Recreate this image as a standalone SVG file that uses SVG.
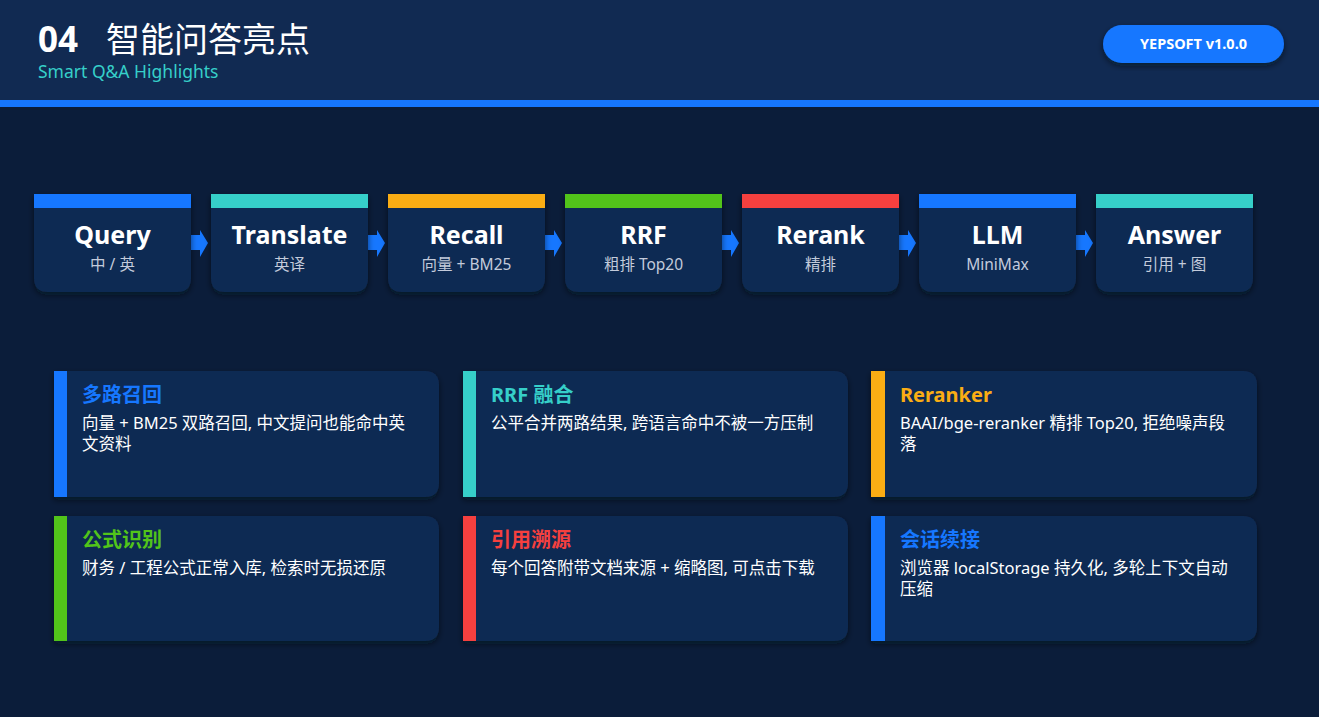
<svg xmlns="http://www.w3.org/2000/svg" width="1319" height="717" viewBox="0 0 1319 717">
<defs>
<filter id="sh" x="-10%" y="-10%" width="120%" height="130%">
<feDropShadow dx="0" dy="3" stdDeviation="3" flood-color="#000814" flood-opacity="0.55"/>
</filter>
<style>
.f{font-family:"Noto Sans","Noto Sans CJK SC",sans-serif}
.stepbox{fill:#112a52}
.st{font-size:25px;font-weight:700;fill:#ffffff;text-anchor:middle}
.ss{font-size:15.5px;fill:#c3cbdb;text-anchor:middle}
.arrow{fill:#1677ff}
.card{fill:#112a52}
.ct{font-size:20px;font-weight:700}
.cb{font-size:16.5px;fill:#ffffff}
</style>
</defs>
<rect x="0" y="0" width="1319" height="717" fill="#0b1d3a"/>
<g id="header">
<rect x="0" y="0" width="1319" height="100" fill="#112a52"/>
<rect x="0" y="100" width="1319" height="7" fill="#1677ff"/>
<text class="f" x="38" y="52" font-size="35" font-weight="700" fill="#ffffff">04</text>
<text x="106" y="52" font-size="34" fill="#ffffff" font-family="Noto Sans CJK SC, sans-serif">智能问答亮点</text>
<text class="f" x="38" y="78" font-size="17.5" fill="#36cfc9">Smart Q&amp;A Highlights</text>
</g>
<g id="badge">
<rect x="1103" y="25" width="181" height="38" rx="19" fill="#1677ff" filter="url(#sh)"/>
<text class="f" x="1193.5" y="49" font-size="14.5" font-weight="700" fill="#ffffff" text-anchor="middle">YEPSOFT v1.0.0</text>
</g>
<g id="connectors">
<polygon class="arrow" points="191,235 200,235 200,230 208,243 200,257 200,250 191,250"/>
<polygon class="arrow" points="368,235 377,235 377,230 385,243 377,257 377,250 368,250"/>
<polygon class="arrow" points="545,235 554,235 554,230 562,243 554,257 554,250 545,250"/>
<polygon class="arrow" points="722,235 731,235 731,230 739,243 731,257 731,250 722,250"/>
<polygon class="arrow" points="899,235 908,235 908,230 916,243 908,257 908,250 899,250"/>
<polygon class="arrow" points="1076,235 1085,235 1085,230 1093,243 1085,257 1085,250 1076,250"/>
</g>
<g id="step-query">
<path class="stepbox" filter="url(#sh)" d="M34,194 H191 V278 Q191,292 177,292 H48 Q34,292 34,278 Z"/>
<rect x="34" y="194" width="157" height="14" fill="#1677ff"/>
<text class="f st" x="112.5" y="244">Query</text>
<text class="f ss" x="112.5" y="270">中 / 英</text>
</g>
<g id="step-translate">
<path class="stepbox" filter="url(#sh)" d="M211,194 H368 V278 Q368,292 354,292 H225 Q211,292 211,278 Z"/>
<rect x="211" y="194" width="157" height="14" fill="#36cfc9"/>
<text class="f st" x="289.5" y="244">Translate</text>
<text class="f ss" x="289.5" y="270">英译</text>
</g>
<g id="step-recall">
<path class="stepbox" filter="url(#sh)" d="M388,194 H545 V278 Q545,292 531,292 H402 Q388,292 388,278 Z"/>
<rect x="388" y="194" width="157" height="14" fill="#faad14"/>
<text class="f st" x="466.5" y="244">Recall</text>
<text class="f ss" x="466.5" y="270">向量 + BM25</text>
</g>
<g id="step-rrf">
<path class="stepbox" filter="url(#sh)" d="M565,194 H722 V278 Q722,292 708,292 H579 Q565,292 565,278 Z"/>
<rect x="565" y="194" width="157" height="14" fill="#52c41a"/>
<text class="f st" x="643.5" y="244">RRF</text>
<text class="f ss" x="643.5" y="270">粗排 Top20</text>
</g>
<g id="step-rerank">
<path class="stepbox" filter="url(#sh)" d="M742,194 H899 V278 Q899,292 885,292 H756 Q742,292 742,278 Z"/>
<rect x="742" y="194" width="157" height="14" fill="#f5403f"/>
<text class="f st" x="820.5" y="244">Rerank</text>
<text class="f ss" x="820.5" y="270">精排</text>
</g>
<g id="step-llm">
<path class="stepbox" filter="url(#sh)" d="M919,194 H1076 V278 Q1076,292 1062,292 H933 Q919,292 919,278 Z"/>
<rect x="919" y="194" width="157" height="14" fill="#1677ff"/>
<text class="f st" x="997.5" y="244">LLM</text>
<text class="f ss" x="997.5" y="270">MiniMax</text>
</g>
<g id="step-answer">
<path class="stepbox" filter="url(#sh)" d="M1096,194 H1253 V278 Q1253,292 1239,292 H1110 Q1096,292 1096,278 Z"/>
<rect x="1096" y="194" width="157" height="14" fill="#36cfc9"/>
<text class="f st" x="1174.5" y="244">Answer</text>
<text class="f ss" x="1174.5" y="270">引用 + 图</text>
</g>
<g id="card-recall">
<path class="card" filter="url(#sh)" d="M54,371 H425 Q439,371 439,385 V483 Q439,497 425,497 H54 Z"/>
<rect x="54" y="371" width="13" height="126" fill="#1677ff"/>
<text class="f ct" x="82" y="402" fill="#1677ff">多路召回</text>
<text class="f cb" x="82" y="429">向量 + BM25 双路召回, 中文提问也能命中英</text>
<text class="f cb" x="82" y="450">文资料</text>
</g>
<g id="card-rrf">
<path class="card" filter="url(#sh)" d="M463,371 H834 Q848,371 848,385 V483 Q848,497 834,497 H463 Z"/>
<rect x="463" y="371" width="13" height="126" fill="#36cfc9"/>
<text class="f ct" x="491" y="402" fill="#36cfc9">RRF 融合</text>
<text class="f cb" x="491" y="429">公平合并两路结果, 跨语言命中不被一方压制</text>
</g>
<g id="card-reranker">
<path class="card" filter="url(#sh)" d="M871,371 H1243 Q1257,371 1257,385 V483 Q1257,497 1243,497 H871 Z"/>
<rect x="871" y="371" width="14" height="126" fill="#faad14"/>
<text class="f ct" x="900" y="402" fill="#faad14">Reranker</text>
<text class="f cb" x="900" y="429">BAAI/bge-reranker 精排 Top20, 拒绝噪声段</text>
<text class="f cb" x="900" y="450">落</text>
</g>
<g id="card-formula">
<path class="card" filter="url(#sh)" d="M54,516 H425 Q439,516 439,530 V627 Q439,641 425,641 H54 Z"/>
<rect x="54" y="516" width="13" height="125" fill="#52c41a"/>
<text class="f ct" x="82" y="547" fill="#52c41a">公式识别</text>
<text class="f cb" x="82" y="574">财务 / 工程公式正常入库, 检索时无损还原</text>
</g>
<g id="card-citation">
<path class="card" filter="url(#sh)" d="M463,516 H834 Q848,516 848,530 V627 Q848,641 834,641 H463 Z"/>
<rect x="463" y="516" width="13" height="125" fill="#f5403f"/>
<text class="f ct" x="491" y="547" fill="#f5403f">引用溯源</text>
<text class="f cb" x="491" y="574">每个回答附带文档来源 + 缩略图, 可点击下载</text>
</g>
<g id="card-session">
<path class="card" filter="url(#sh)" d="M871,516 H1243 Q1257,516 1257,530 V627 Q1257,641 1243,641 H871 Z"/>
<rect x="871" y="516" width="14" height="125" fill="#1677ff"/>
<text class="f ct" x="900" y="547" fill="#1677ff">会话续接</text>
<text class="f cb" x="900" y="574">浏览器 localStorage 持久化, 多轮上下文自动</text>
<text class="f cb" x="900" y="595">压缩</text>
</g>
</svg>
